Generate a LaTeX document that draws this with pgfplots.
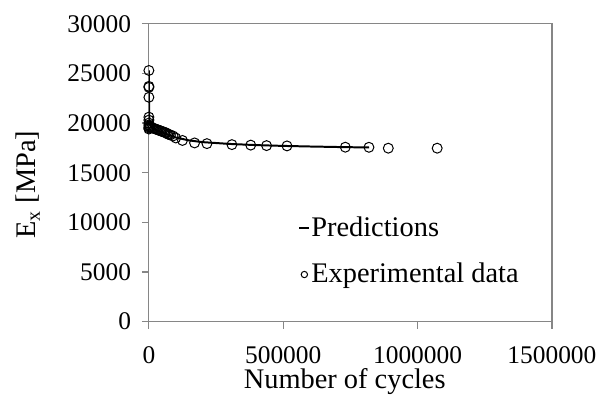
\documentclass[border=0pt]{standalone}
\usepackage{fontspec}
\setmainfont{Liberation Serif}
\usepackage{pgfplots}
\pgfplotsset{compat=1.18}
\definecolor{axgray}{RGB}{134,134,134}
\begin{document}
\begin{tikzpicture}
\begin{axis}[
  scale only axis, width=203pt, height=150pt,
  xmin=0, xmax=1500000, ymin=0, ymax=30000,
  xtick={0,500000,1000000,1500000},
  ytick={0,5000,10000,15000,20000,25000,30000},
  scaled ticks=false,
  /pgf/number format/fixed,
  /pgf/number format/1000 sep={},
  /pgf/number format/assume math mode=true,
  tick pos=left, tick align=outside, major tick length=3.5pt,
  axis line style={axgray, line width=0.6pt},
  tick style={axgray, line width=0.6pt},
  ticklabel style={font=\fontsize{12.8}{15}\selectfont},
  xticklabel style={yshift=-5.5pt},
  yticklabel style={xshift=-2pt},
  label style={font=\fontsize{14.3}{17}\selectfont},
  xlabel={Number of cycles},
  ylabel={E\textsubscript{x} [MPa]},
  xlabel style={at={(axis description cs:0.486,-0.203)}, anchor=center},
  ylabel style={at={(axis description cs:-0.30,0.46)}, anchor=center, rotate=0},
  legend style={draw=none, fill=none, at={(rel axis cs:0.37,0.357)}, anchor=north west,
    font=\fontsize{14.3}{17}\selectfont, row sep=11pt, inner sep=0pt,
    nodes={inner sep=0.5pt}},
  legend cell align=left,
]
\addplot[black, line width=1pt,
  legend image code/.code={\draw[black, line width=1pt] (0pt,0pt) -- (5pt,0pt);}]
  coordinates {
  (0,25300) (100,23700) (500,22000) (1000,20800) (3000,19900) (10000,19550)
  (30000,19250) (60000,18950) (100000,18550) (150000,18250) (200000,18080)
  (300000,17900) (400000,17780) (500000,17700) (600000,17640) (700000,17590)
  (820000,17540)
};
\addlegendentry{Predictions}
\addplot[only marks, mark=o, mark size=2.5pt, black, mark options={line width=0.5pt},
  legend image code/.code={\draw[black, line width=0.5pt] (2.5pt,0pt) circle (1.6pt);}]
  coordinates {
  (0,25300) (0,23700) (0,23600) (0,22600) (0,20600) (0,20300) (0,20000)
  (0,19800) (0,19600) (0,19500) (0,19400)
  (2000,19700) (5000,19600) (10000,19550) (15000,19500) (20000,19450)
  (25000,19400) (30000,19350) (35000,19300) (40000,19250) (45000,19200)
  (50000,19150) (55000,19100) (60000,19050) (65000,19000) (70000,18900)
  (75000,18850) (80000,18800) (90000,18700) (100000,18500) (125000,18250)
  (170000,18000) (216000,17930) (309000,17830) (379000,17780) (438000,17730)
  (514000,17700) (731000,17570) (819000,17560) (891000,17470) (1073000,17470)
};
\addlegendentry{Experimental data}
\end{axis}
\path (current axis.south west) ++(-75pt,-39.5pt) (current axis.north east) ++(23.5pt,12pt);
\end{tikzpicture}
\end{document}
